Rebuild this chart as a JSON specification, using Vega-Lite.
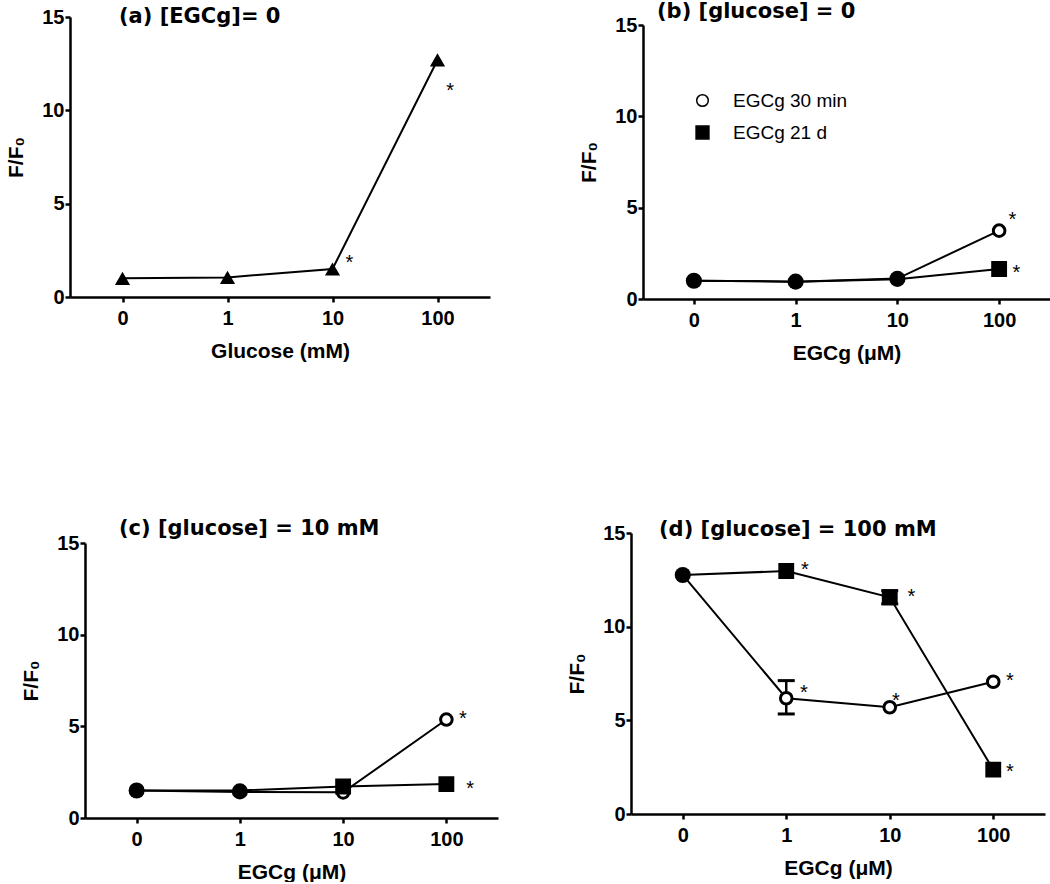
{
  "$schema": "https://vega.github.io/schema/vega-lite/v6.json",
  "background": "white",
  "padding": {"left": 5, "top": 1, "right": 0, "bottom": 0},
  "config": {
    "view": {"stroke": null},
    "font": "Liberation Sans",
    "axis": {"domainColor": "black", "domainWidth": 2.5, "tickColor": "black", "tickWidth": 2.5, "tickSize": 5, "labelFont": "Liberation Sans", "labelFontSize": 20, "labelFontWeight": "bold", "labelColor": "black", "titleFont": "Liberation Sans", "titleFontSize": 21, "titleFontWeight": "bold", "titleColor": "black", "grid": false},
    "axisY": {"titlePadding": 15, "labelPadding": 1},
    "axisX": {"titlePadding": 12, "labelPadding": 6},
    "title": {"font": "DejaVu Sans", "fontSize": 21, "fontWeight": "bold", "anchor": "start", "frame": "group", "color": "black"},
    "legend": {"labelFont": "Liberation Sans", "labelFontSize": 19, "labelColor": "black", "labelFontWeight": "normal"}
  },
  "datasets": {
    "pts": [
      {"p": "a", "s": "Glucose", "x": 0, "y": 1.0},
      {"p": "a", "s": "Glucose", "x": 1, "y": 1.05},
      {"p": "a", "s": "Glucose", "x": 2, "y": 1.5},
      {"p": "a", "s": "Glucose", "x": 3, "y": 12.7},
      {"p": "b", "s": "EGCg 30 min", "x": 0, "y": 1.0, "k": "b0"},
      {"p": "b", "s": "EGCg 30 min", "x": 1, "y": 0.95, "k": "b1"},
      {"p": "b", "s": "EGCg 30 min", "x": 2, "y": 1.12, "k": "b2"},
      {"p": "b", "s": "EGCg 30 min", "x": 3, "y": 3.74},
      {"p": "b", "s": "EGCg 21 d", "x": 0, "y": 1.0, "k": "b0"},
      {"p": "b", "s": "EGCg 21 d", "x": 1, "y": 0.95, "k": "b1"},
      {"p": "b", "s": "EGCg 21 d", "x": 2, "y": 1.08, "k": "b2"},
      {"p": "b", "s": "EGCg 21 d", "x": 3, "y": 1.64},
      {"p": "c", "s": "EGCg 30 min", "x": 0, "y": 1.5, "k": "c0"},
      {"p": "c", "s": "EGCg 30 min", "x": 1, "y": 1.42, "k": "c1"},
      {"p": "c", "s": "EGCg 30 min", "x": 2, "y": 1.4},
      {"p": "c", "s": "EGCg 30 min", "x": 3, "y": 5.37},
      {"p": "c", "s": "EGCg 21 d", "x": 0, "y": 1.5, "k": "c0"},
      {"p": "c", "s": "EGCg 21 d", "x": 1, "y": 1.5, "k": "c1"},
      {"p": "c", "s": "EGCg 21 d", "x": 2, "y": 1.72},
      {"p": "c", "s": "EGCg 21 d", "x": 3, "y": 1.85},
      {"p": "d", "s": "EGCg 30 min", "x": 0, "y": 12.76, "k": "d0"},
      {"p": "d", "s": "EGCg 30 min", "x": 1, "y": 6.18},
      {"p": "d", "s": "EGCg 30 min", "x": 2, "y": 5.7},
      {"p": "d", "s": "EGCg 30 min", "x": 3, "y": 7.06},
      {"p": "d", "s": "EGCg 21 d", "x": 0, "y": 12.76, "k": "d0"},
      {"p": "d", "s": "EGCg 21 d", "x": 1, "y": 12.97},
      {"p": "d", "s": "EGCg 21 d", "x": 2, "y": 11.57},
      {"p": "d", "s": "EGCg 21 d", "x": 3, "y": 2.37}
    ],
    "blobs": [
      {"p": "b", "k": "b0", "x": 0, "y": 1.0},
      {"p": "b", "k": "b1", "x": 1, "y": 0.95},
      {"p": "b", "k": "b2", "x": 2, "y": 1.1},
      {"p": "c", "k": "c0", "x": 0, "y": 1.5},
      {"p": "c", "k": "c1", "x": 1, "y": 1.45},
      {"p": "d", "k": "d0", "x": 0, "y": 12.76}
    ],
    "err": [
      {"p": "d", "s": "EGCg 30 min", "x": 1, "lo": 5.34, "hi": 7.12},
      {"p": "d", "s": "EGCg 21 d", "x": 2, "lo": 11.22, "hi": 11.92}
    ],
    "stars": [
      {"p": "a", "x": 2.16, "y": 2.1, "t": "*"},
      {"p": "a", "x": 3.12, "y": 11.3, "t": "*"},
      {"p": "b", "x": 3.13, "y": 4.6, "t": "*"},
      {"p": "b", "x": 3.17, "y": 1.7, "t": "*"},
      {"p": "c", "x": 3.16, "y": 5.65, "t": "*"},
      {"p": "c", "x": 3.23, "y": 1.84, "t": "*"},
      {"p": "d", "x": 1.18, "y": 13.3, "t": "*"},
      {"p": "d", "x": 2.21, "y": 11.84, "t": "*"},
      {"p": "d", "x": 1.17, "y": 6.71, "t": "*"},
      {"p": "d", "x": 2.06, "y": 6.32, "t": "*"},
      {"p": "d", "x": 3.16, "y": 7.38, "t": "*"},
      {"p": "d", "x": 3.16, "y": 2.53, "t": "*"}
    ]
  },
  "resolve": {"legend": {"shape": "independent", "fill": "independent", "size": "independent"}, "scale": {"shape": "independent", "fill": "independent", "size": "independent"}},
  "spacing": 155,
  "vconcat": [
    {
      "spacing": 88,
      "resolve": {"legend": {"shape": "independent", "fill": "independent", "size": "independent"}, "scale": {"shape": "independent", "fill": "independent", "size": "independent"}},
      "hconcat": [
        {
          "width": 420, "height": 280,
          "title": {"text": "(a) [EGCg]= 0", "dx": 49, "offset": -20},
          "encoding": {
            "x": {"field": "x", "type": "quantitative", "title": "Glucose (mM)", "scale": {"domain": [-0.5, 3.5]}, "axis": {"values": [0, 1, 2, 3], "labelExpr": "['0','1','10','100'][datum.value]"}},
            "y": {"field": "y", "type": "quantitative", "title": "F/F₀", "scale": {"domain": [0, 15]}, "axis": {"values": [0, 5, 10, 15]}}
          },
          "layer": [
            {"data": {"name": "pts"}, "transform": [{"filter": "datum.p === 'a'"}], "mark": {"type": "line", "color": "black", "strokeWidth": 2}},
            {"data": {"name": "pts"}, "transform": [{"filter": "datum.p === 'a'"}], "mark": {"type": "point", "shape": "triangle-up", "filled": true, "color": "black", "opacity": 1, "size": 230}},
            {"data": {"name": "stars"}, "transform": [{"filter": "datum.p === 'a'"}], "mark": {"type": "text", "fontSize": 20, "baseline": "alphabetic", "dy": 11, "color": "black"}, "encoding": {"text": {"field": "t"}}}
          ]
        },
        {
          "bounds": "flush",
          "spacing": 7,
          "resolve": {"legend": {"shape": "independent", "fill": "independent", "size": "independent"}, "scale": {"shape": "independent", "fill": "independent", "size": "independent"}},
          "vconcat": [
            {"width": 1, "height": 1, "data": {"values": [{}]}, "mark": {"type": "point", "opacity": 0}},
            {
              "width": 407, "height": 274,
              "title": {"text": "(b) [glucose] = 0", "dx": 14, "offset": -7},
              "encoding": {
                "x": {"field": "x", "type": "quantitative", "title": "EGCg (μM)", "scale": {"domain": [-0.5, 3.5]}, "axis": {"values": [0, 1, 2, 3], "labelExpr": "['0','1','10','100'][datum.value]"}},
                "y": {"field": "y", "type": "quantitative", "title": "F/F₀", "scale": {"domain": [0, 15]}, "axis": {"values": [0, 5, 10, 15]}}
              },
              "layer": [
                {"data": {"name": "pts"}, "transform": [{"filter": "datum.p === 'b'"}], "mark": {"type": "line", "color": "black", "strokeWidth": 2}, "encoding": {"detail": {"field": "s"}}},
                {"data": {"name": "pts"}, "transform": [{"filter": "datum.p === 'b'"}, {"lookup": "k", "from": {"data": {"name": "blobs"}, "key": "k", "fields": ["p"]}, "as": ["bp"]}, {"filter": "datum.bp == null"}],
                 "mark": {"type": "point", "filled": true, "stroke": "black", "strokeWidth": 3, "opacity": 1},
                 "encoding": {
                   "shape": {"field": "s", "type": "nominal", "scale": {"domain": ["EGCg 30 min", "EGCg 21 d"], "range": ["circle", "square"]}, "legend": {"title": null, "orient": "none", "legendX": 50, "legendY": 66, "rowPadding": 12, "labelOffset": 21, "encode": {"symbols": {"update": {"stroke": {"value": "black"}, "strokeWidth": {"value": 3}}}}}},
                   "fill": {"field": "s", "type": "nominal", "scale": {"domain": ["EGCg 30 min", "EGCg 21 d"], "range": ["white", "black"]}, "legend": {"title": null, "orient": "none", "legendX": 50, "legendY": 66, "rowPadding": 12, "labelOffset": 21, "encode": {"symbols": {"update": {"stroke": {"value": "black"}, "strokeWidth": {"value": 3}}}}}},
                   "size": {"field": "s", "type": "nominal", "scale": {"domain": ["EGCg 30 min", "EGCg 21 d"], "range": [135, 165]}, "legend": {"title": null, "orient": "none", "legendX": 50, "legendY": 66, "rowPadding": 12, "labelOffset": 21, "encode": {"symbols": {"update": {"stroke": {"value": "black"}, "strokeWidth": {"value": 3}}}}}}
                 }},
                {"data": {"name": "blobs"}, "transform": [{"filter": "datum.p === 'b'"}], "mark": {"type": "point", "shape": "circle", "filled": true, "color": "black", "opacity": 1, "size": 260}},
                {"data": {"name": "stars"}, "transform": [{"filter": "datum.p === 'b'"}], "mark": {"type": "text", "fontSize": 20, "baseline": "alphabetic", "dy": 11, "color": "black"}, "encoding": {"text": {"field": "t"}}}
              ]
            }
          ]
        }
      ]
    },
    {
      "bounds": "flush",
      "spacing": 14,
      "resolve": {"legend": {"shape": "independent", "fill": "independent", "size": "independent"}, "scale": {"shape": "independent", "fill": "independent", "size": "independent"}},
      "hconcat": [
        {"width": 1, "height": 1, "data": {"values": [{}]}, "mark": {"type": "point", "opacity": 0}},
        {
          "spacing": 68,
          "resolve": {"legend": {"shape": "independent", "fill": "independent", "size": "independent"}, "scale": {"shape": "independent", "fill": "independent", "size": "independent"}},
          "hconcat": [
            {
              "bounds": "flush",
              "spacing": 9,
              "resolve": {"legend": {"shape": "independent", "fill": "independent", "size": "independent"}, "scale": {"shape": "independent", "fill": "independent", "size": "independent"}},
              "vconcat": [
                {"width": 1, "height": 1, "data": {"values": [{}]}, "mark": {"type": "point", "opacity": 0}},
                {
                  "width": 413, "height": 275,
                  "title": {"text": "(c) [glucose] = 10 mM", "dx": 34, "offset": -6},
                  "encoding": {
                    "x": {"field": "x", "type": "quantitative", "title": "EGCg (μM)", "scale": {"domain": [-0.5, 3.5]}, "axis": {"values": [0, 1, 2, 3], "labelExpr": "['0','1','10','100'][datum.value]"}},
                    "y": {"field": "y", "type": "quantitative", "title": "F/F₀", "scale": {"domain": [0, 15]}, "axis": {"values": [0, 5, 10, 15]}}
                  },
                  "layer": [
                    {"data": {"name": "pts"}, "transform": [{"filter": "datum.p === 'c'"}], "mark": {"type": "line", "color": "black", "strokeWidth": 2}, "encoding": {"detail": {"field": "s"}}},
                    {"data": {"name": "pts"}, "transform": [{"filter": "datum.p === 'c'"}, {"lookup": "k", "from": {"data": {"name": "blobs"}, "key": "k", "fields": ["p"]}, "as": ["bp"]}, {"filter": "datum.bp == null"}],
                     "mark": {"type": "point", "filled": true, "stroke": "black", "strokeWidth": 3, "opacity": 1},
                     "encoding": {
                       "shape": {"field": "s", "type": "nominal", "scale": {"domain": ["EGCg 30 min", "EGCg 21 d"], "range": ["circle", "square"]}, "legend": null},
                       "fill": {"field": "s", "type": "nominal", "scale": {"domain": ["EGCg 30 min", "EGCg 21 d"], "range": ["white", "black"]}, "legend": null},
                       "size": {"field": "s", "type": "nominal", "scale": {"domain": ["EGCg 30 min", "EGCg 21 d"], "range": [135, 165]}, "legend": null}
                     }},
                    {"data": {"name": "blobs"}, "transform": [{"filter": "datum.p === 'c'"}], "mark": {"type": "point", "shape": "circle", "filled": true, "color": "black", "opacity": 1, "size": 260}},
                    {"data": {"name": "stars"}, "transform": [{"filter": "datum.p === 'c'"}], "mark": {"type": "text", "fontSize": 20, "baseline": "alphabetic", "dy": 11, "color": "black"}, "encoding": {"text": {"field": "t"}}}
                  ]
                }
              ]
            },
            {
              "width": 414, "height": 281,
              "title": {"text": "(d) [glucose] = 100 mM", "dx": 28, "offset": -17},
              "encoding": {
                "x": {"field": "x", "type": "quantitative", "title": "EGCg (μM)", "scale": {"domain": [-0.5, 3.5]}, "axis": {"values": [0, 1, 2, 3], "labelExpr": "['0','1','10','100'][datum.value]"}},
                "y": {"field": "y", "type": "quantitative", "title": "F/F₀", "scale": {"domain": [0, 15]}, "axis": {"values": [0, 5, 10, 15]}}
              },
              "layer": [
                {"data": {"name": "pts"}, "transform": [{"filter": "datum.p === 'd'"}], "mark": {"type": "line", "color": "black", "strokeWidth": 2}, "encoding": {"detail": {"field": "s"}}},
                {"data": {"name": "err"}, "transform": [{"filter": "datum.p === 'd'"}], "mark": {"type": "errorbar", "color": "black", "opacity": 1, "ticks": {"size": 17, "thickness": 3, "color": "black", "opacity": 1}, "rule": {"strokeWidth": 2.5, "color": "black", "opacity": 1}},
                 "encoding": {
                   "y": {"field": "lo", "type": "quantitative", "title": "F/F₀", "scale": {"domain": [0, 15]}},
                   "y2": {"field": "hi"}
                 }},
                {"data": {"name": "pts"}, "transform": [{"filter": "datum.p === 'd'"}, {"lookup": "k", "from": {"data": {"name": "blobs"}, "key": "k", "fields": ["p"]}, "as": ["bp"]}, {"filter": "datum.bp == null"}],
                 "mark": {"type": "point", "filled": true, "stroke": "black", "strokeWidth": 3, "opacity": 1},
                 "encoding": {
                   "shape": {"field": "s", "type": "nominal", "scale": {"domain": ["EGCg 30 min", "EGCg 21 d"], "range": ["circle", "square"]}, "legend": null},
                   "fill": {"field": "s", "type": "nominal", "scale": {"domain": ["EGCg 30 min", "EGCg 21 d"], "range": ["white", "black"]}, "legend": null},
                   "size": {"field": "s", "type": "nominal", "scale": {"domain": ["EGCg 30 min", "EGCg 21 d"], "range": [135, 165]}, "legend": null}
                 }},
                {"data": {"name": "blobs"}, "transform": [{"filter": "datum.p === 'd'"}], "mark": {"type": "point", "shape": "circle", "filled": true, "color": "black", "opacity": 1, "size": 260}},
                {"data": {"name": "stars"}, "transform": [{"filter": "datum.p === 'd'"}], "mark": {"type": "text", "fontSize": 20, "baseline": "alphabetic", "dy": 11, "color": "black"}, "encoding": {"text": {"field": "t"}}}
              ]
            }
          ]
        }
      ]
    }
  ]
}
